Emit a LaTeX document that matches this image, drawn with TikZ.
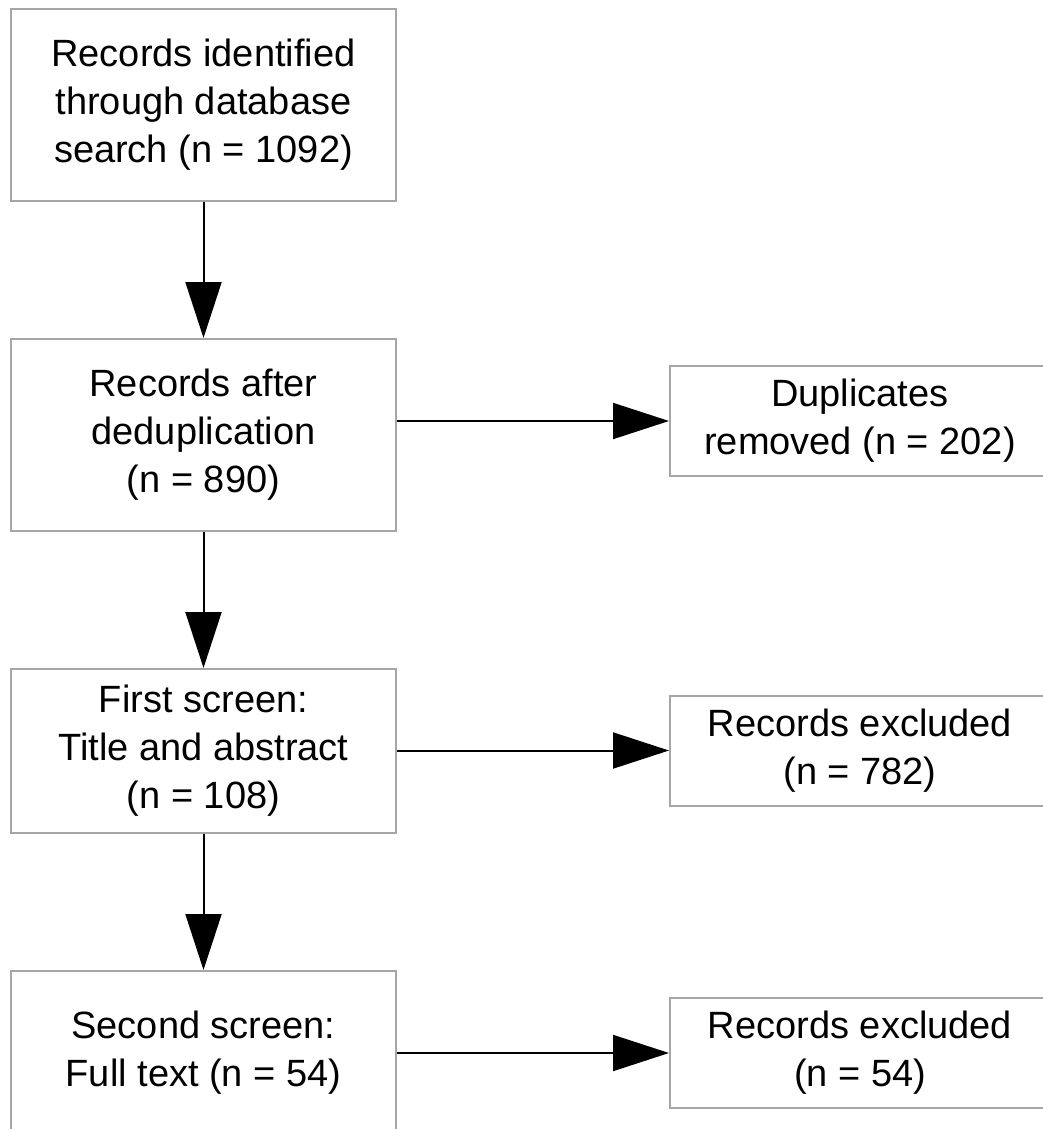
\documentclass[tikz,border=0pt]{standalone}
\usepackage{fontspec}
\setmainfont{Liberation Sans}
\usetikzlibrary{arrows.meta}
\definecolor{boxline}{HTML}{A6A6A6}
\tikzset{
  box/.style={draw=boxline, line width=2pt, fill=white, inner sep=0pt,
    align=center, font=\fontsize{38}{48}\selectfont},
  leftbox/.style={box, minimum width=385pt},
  rightbox/.style={box, minimum width=380pt, minimum height=110pt},
  flow/.style={draw=black, line width=2pt,
    -{Triangle[length=56pt,width=36pt]}}
}
\begin{document}
\begin{tikzpicture}[x=1pt, y=-1pt]
  \useasboundingbox (0,0) rectangle (1043,1129);
  \clip (0,0) rectangle (1043,1129);
  \fill[white] (0,0) rectangle (1043,1129);

  % main column
  \node[leftbox, minimum height=192pt] (id)    at (203.5,105) {Records identified\\through database\\search (n = 1092)};
  \node[leftbox, minimum height=192pt] (dedup) at (203.5,435) {Records after\\deduplication\\(n = 890)};
  \node[leftbox, minimum height=164pt] (first) at (203.5,751) {First screen:\\Title and abstract\\(n = 108)};
  \node[leftbox, minimum height=164pt] (second) at (203.5,1053) {Second screen:\\Full text (n = 54)};

  % exclusions
  \node[rightbox] (dup)   at (860,421)  {Duplicates\\removed (n = 202)};
  \node[rightbox] (excl1) at (860,750.5) {Records excluded\\(n = 782)};
  \node[rightbox] (excl2) at (860,1053) {Records excluded\\(n = 54)};

  % connectors
  \draw[flow] (id) -- (dedup);
  \draw[flow] (dedup) -- (first);
  \draw[flow] (first) -- (second);
  \draw[flow] (dup.west -| dedup.east) -- (dup.west);
  \draw[flow] (excl1.west -| first.east) -- (excl1.west);
  \draw[flow] (excl2.west -| second.east) -- (excl2.west);
\end{tikzpicture}
\end{document}
